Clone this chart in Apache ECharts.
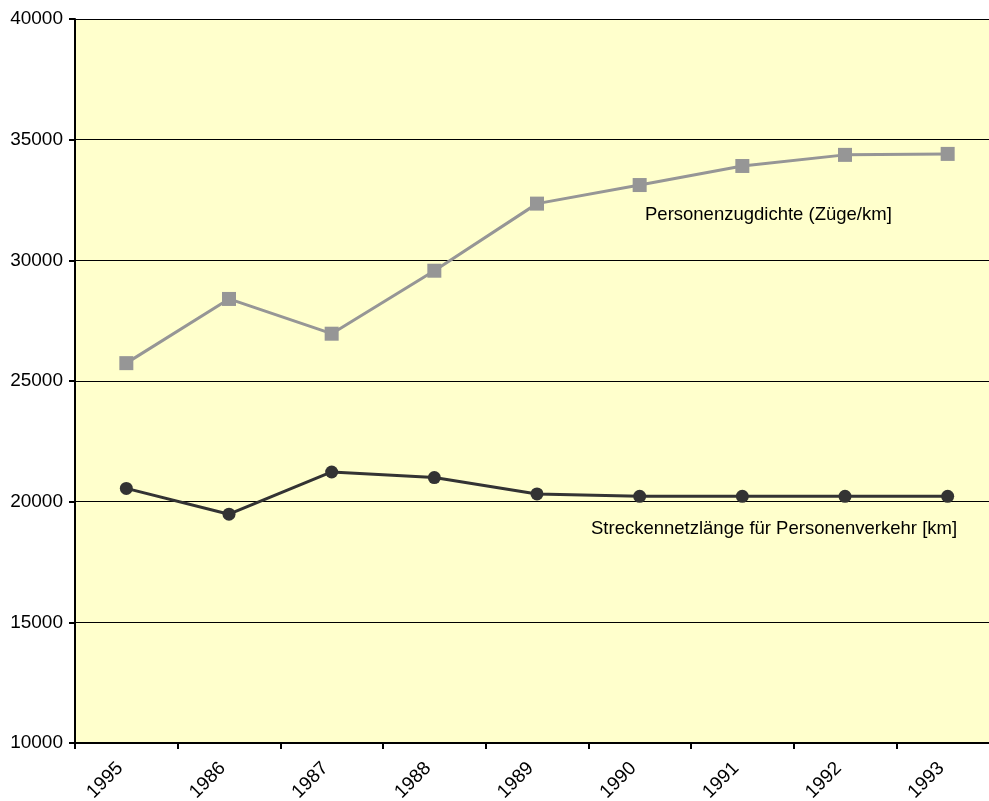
<!DOCTYPE html>
<html>
<head>
<meta charset="utf-8">
<script src="https://cdn.jsdelivr.net/npm/echarts@6/dist/echarts.min.js"></script>
<style>
html,body{margin:0;padding:0;background:#fff;overflow:hidden;}
#c{width:989px;height:801px;}
</style>
</head>
<body>
<div id="c"></div>
<script>
const categories = ['1995','1986','1987','1988','1989','1990','1991','1992','1993'];
const zugdichte = [25740, 28400, 26960, 29570, 32350, 33120, 33910, 34370, 34410];
const netzlaenge = [20550, 19480, 21230, 21000, 20320, 20220, 20220, 20220, 20220];
const yTicks = { min: 10000, max: 40000, interval: 5000 };
const labelZug = 'Personenzugdichte (Züge/km]';
const labelNetz = 'Streckennetzlänge für Personenverkehr [km]';

const chart = echarts.init(document.getElementById('c'), null, {renderer:'canvas'});
const font = '"Liberation Sans", Arial, sans-serif';
chart.setOption({
  animation: false,
  backgroundColor: '#ffffff',
  textStyle: { fontFamily: font },
  grid: { left: 75, top: 19, right: -10, bottom: 58, outerBoundsMode: 'none', containLabel: false,
          show: true, backgroundColor: '#FFFFCC', borderWidth: 0 },
  xAxis: {
    type: 'category',
    data: categories,
    boundaryGap: true,
    axisLine: { lineStyle: { color: '#000', width: 2 } },
    axisTick: { show: true, length: 6, lineStyle: { color: '#000', width: 2 } },
    axisLabel: { rotate: 45, fontSize: 19, color: '#000', fontFamily: font, margin: 16, padding: [0, 9, 0, 0] },
    splitLine: { show: false }
  },
  yAxis: {
    type: 'value',
    min: yTicks.min, max: yTicks.max, interval: yTicks.interval,
    axisLine: { show: true, lineStyle: { color: '#000', width: 2 } },
    axisTick: { show: true, length: 6, lineStyle: { color: '#000', width: 2 } },
    axisLabel: { fontSize: 19, color: '#000', fontFamily: font, margin: 12, formatter: v => String(v) },
    splitLine: { show: true, lineStyle: { color: '#000', width: 1.2 } }
  },
  series: [
    {
      type: 'line', data: zugdichte,
      symbol: 'rect', symbolSize: 14,
      lineStyle: { color: '#969696', width: 3 },
      itemStyle: { color: '#969696' },
      z: 3
    },
    {
      type: 'line', data: netzlaenge,
      symbol: 'circle', symbolSize: 13,
      lineStyle: { color: '#333333', width: 3 },
      itemStyle: { color: '#333333' },
      z: 3
    }
  ],
  graphic: [
    { type: 'text', left: 645, top: 205, style: { text: labelZug, font: '18.5px ' + font, fill: '#000' } },
    { type: 'text', left: 591, top: 519, style: { text: labelNetz, font: '18.5px ' + font, fill: '#000' } }
  ]
});
</script>
</body>
</html>
